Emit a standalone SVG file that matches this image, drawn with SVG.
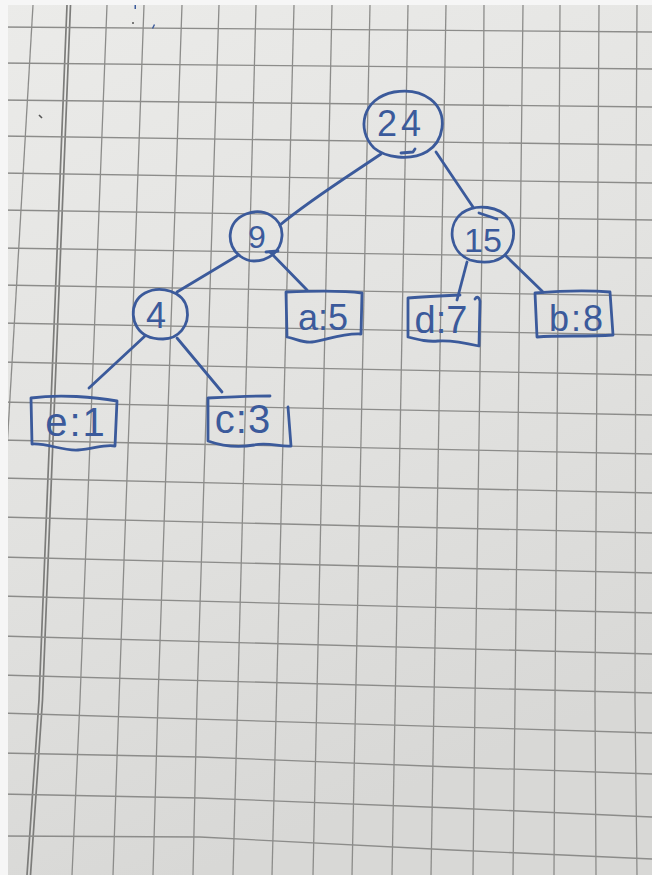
<svg xmlns="http://www.w3.org/2000/svg" width="652" height="875" viewBox="0 0 652 875">
  <defs>
    <linearGradient id="paper" x1="0" y1="0" x2="0.3" y2="1">
      <stop offset="0" stop-color="#ebebe9"/>
      <stop offset="0.5" stop-color="#e3e3e1"/>
      <stop offset="1" stop-color="#d8d8d6"/>
    </linearGradient>
    <style>
      .grid { stroke: #8c8c8a; stroke-width: 1.3; fill: none; }
      .margin { stroke: #7c7c7a; stroke-width: 1.7; fill: none; }
      .ink { stroke: #3b5a9b; stroke-width: 2.8; fill: none; stroke-linecap: round; stroke-linejoin: round; }
      .lbl { font-family: "Liberation Sans", "DejaVu Sans", sans-serif; fill: #3b5a9b; text-anchor: middle; }
    </style>
  </defs>

  <!-- squared paper -->
  <rect x="0" y="0" width="652" height="875" fill="url(#paper)"/>

  <g id="grid">
    <!-- vertical rules (slightly bent by the page curl) -->
    <polyline class="grid" points="33,5 -18,875"/>
    <polyline class="margin" points="67,5 39,700 27,875"/>
    <polyline class="margin" points="70.5,5 42.5,700 30.5,875"/>
    <polyline class="grid" points="107,5 80,700 72,875"/>
    <polyline class="grid" points="144,5 119,700 113,875"/>
    <polyline class="grid" points="182,5 158,700 153,875"/>
    <polyline class="grid" points="219,5 197,700 193,875"/>
    <line class="grid" x1="256" y1="5" x2="233" y2="875"/>
    <line class="grid" x1="294" y1="5" x2="272" y2="875"/>
    <line class="grid" x1="332" y1="5" x2="313" y2="875"/>
    <line class="grid" x1="370" y1="5" x2="352" y2="875"/>
    <line class="grid" x1="408" y1="5" x2="392" y2="875"/>
    <line class="grid" x1="446" y1="5" x2="431" y2="875"/>
    <polyline class="grid" points="484,5 483,175 475,700 473,875"/>
    <polyline class="grid" points="523,5 521,175 515,700 513,875"/>
    <polyline class="grid" points="560,5 559,175 555,700 554,875"/>
    <polyline class="grid" points="599,5 598,175 595,700 596,875"/>
    <polyline class="grid" points="637,5 636,175 635,700 637,875"/>
    <!-- horizontal rules -->
    <line class="grid" x1="0" y1="27" x2="652" y2="32"/>
    <line class="grid" x1="0" y1="63" x2="652" y2="69"/>
    <line class="grid" x1="0" y1="100" x2="652" y2="107"/>
    <line class="grid" x1="0" y1="136" x2="652" y2="145"/>
    <line class="grid" x1="0" y1="173" x2="652" y2="183"/>
    <line class="grid" x1="0" y1="210" x2="652" y2="220"/>
    <line class="grid" x1="0" y1="248" x2="652" y2="258"/>
    <line class="grid" x1="0" y1="285" x2="652" y2="296"/>
    <line class="grid" x1="0" y1="323" x2="652" y2="335"/>
    <line class="grid" x1="0" y1="362" x2="652" y2="375"/>
    <line class="grid" x1="0" y1="402" x2="652" y2="415"/>
    <line class="grid" x1="0" y1="440" x2="652" y2="454"/>
    <line class="grid" x1="0" y1="478" x2="652" y2="493"/>
    <line class="grid" x1="0" y1="517" x2="652" y2="533"/>
    <line class="grid" x1="0" y1="557" x2="652" y2="573"/>
    <line class="grid" x1="0" y1="596" x2="652" y2="613"/>
    <line class="grid" x1="0" y1="636" x2="652" y2="654"/>
    <line class="grid" x1="0" y1="675" x2="652" y2="693"/>
    <line class="grid" x1="0" y1="713" x2="652" y2="733"/>
    <polyline class="grid" points="0,753 200,757 452,767 652,774"/>
    <polyline class="grid" points="0,794 200,798 452,808 652,817"/>
    <polyline class="grid" points="0,836 200,837 452,850 652,859"/>
  </g>

  <!-- white photo border along the top and left -->
  <rect x="0" y="0" width="8" height="875" fill="#f6f6f6"/>
  <rect x="0" y="0" width="652" height="5" fill="#f6f6f6"/>

  <!-- stray pen marks near the top -->
  <g fill="#3b5a9b">
    <rect x="134.5" y="5" width="1.5" height="4"/>
    <circle cx="133" cy="23" r="1" fill="#555"/>
    <path d="M 152,28 L 154,24 L 155,25 L 153,29 Z"/>
    <path d="M 39,115 L 42,118" stroke="#555" stroke-width="1.6"/>
  </g>

  <!-- tree edges -->
  <g id="connectors" class="ink">
    <path d="M 381,154 C 350,175 310,200 280,225"/>
    <path d="M 436,152 L 473,207"/>
    <path d="M 237,256 L 177,292"/>
    <path d="M 270,252 L 307,290"/>
    <path d="M 266,252 L 278,251"/>
    <path d="M 145,336 L 89,388"/>
    <path d="M 177,338 L 222,392"/>
    <path d="M 467,262 L 457,300"/>
    <path d="M 506,256 L 543,292"/>
  </g>

  <g id="n24">
    <path class="ink" d="M 374,148 C 356,130 362,98 394,92 C 424,87 445,104 442,128 C 439,150 420,159 398,157 C 388,156 380,153 374,148 Z"/>
    <path class="ink" d="M 401,153 L 413,152 L 415,149"/>
    <text class="lbl" x="401" y="136" font-size="36" letter-spacing="4">24</text>
  </g>

  <g id="n9">
    <path class="ink" d="M 240,256 C 226,246 226,222 246,214 C 264,207 283,218 282,236 C 281,252 268,261 254,261 C 248,261 244,259 240,256 Z"/>
    <text class="lbl" x="257" y="248" font-size="32">9</text>
  </g>

  <g id="n15">
    <path class="ink" d="M 470,260 C 450,252 446,226 462,213 C 476,203 500,206 510,220 C 518,234 512,256 494,261 C 486,263 477,262 470,260 Z"/>
    <path class="ink" d="M 479,213 L 497,219"/>
    <text class="lbl" x="483" y="252" font-size="34">15</text>
  </g>

  <g id="n4">
    <path class="ink" d="M 147,336 C 130,328 128,302 145,293 C 160,285 184,291 187,309 C 190,326 178,339 163,339 C 157,339 151,338 147,336 Z"/>
    <text class="lbl" x="156" y="328" font-size="36">4</text>
  </g>

  <g id="a5">
    <path class="ink" d="M 286,292 L 287,337 C 297,339 303,343 312,342 C 325,341 340,333 361,334 L 362,293 C 340,290 310,291 286,292 Z"/>
    <text class="lbl" x="323" y="330" font-size="36">a:5</text>
  </g>

  <g id="d7">
    <path class="ink" d="M 460,295 C 440,296 422,297 408,298 L 408,337 C 420,340 428,342 438,341 C 452,340 466,343 479,346 L 480,301 C 479,297 477,296 475,299"/>
    <text class="lbl" x="441" y="333" font-size="38">d:7</text>
  </g>

  <g id="b8">
    <path class="ink" d="M 535,293 L 537,337 C 560,335 585,337 613,335 L 610,292 C 585,290 560,291 535,293 Z"/>
    <text class="lbl" x="577" y="331" font-size="36" letter-spacing="2">b:8</text>
  </g>

  <g id="e1">
    <path class="ink" d="M 31,398 L 32,444 C 48,443 62,451 78,450 C 94,449 104,444 115,446 L 117,401 C 95,397 60,394 31,398 Z"/>
    <text class="lbl" x="76" y="436" font-size="40" letter-spacing="2">e:1</text>
  </g>

  <g id="c3">
    <path class="ink" d="M 270,396 C 250,396 228,397 208,398 L 208,441 C 222,446 238,448 254,445 C 268,442 280,447 291,446 L 288,407"/>
    <text class="lbl" x="243" y="433" font-size="40" letter-spacing="1">c:3</text>
  </g>
</svg>
